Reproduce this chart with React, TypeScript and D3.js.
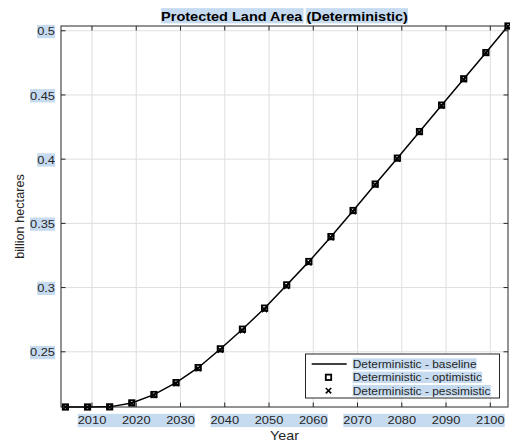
import React, { useEffect, useRef } from "react";
import * as d3 from "d3";

const years = [2004, 2009, 2014, 2019, 2024, 2029, 2034, 2039, 2044, 2049, 2054, 2059, 2064, 2069, 2074, 2079, 2084, 2089, 2094, 2099, 2104];
const baseline = [0.2070, 0.2070, 0.2071, 0.2101, 0.2166, 0.2259, 0.2376, 0.2522, 0.2675, 0.2839, 0.3020, 0.3202, 0.3396, 0.3599, 0.3805, 0.4007, 0.4214, 0.4420, 0.4625, 0.4829, 0.5037];
const optimistic = [0.2070, 0.2070, 0.2071, 0.2102, 0.2167, 0.2260, 0.2377, 0.2523, 0.2676, 0.2840, 0.3021, 0.3203, 0.3397, 0.3600, 0.3806, 0.4008, 0.4215, 0.4421, 0.4626, 0.4830, 0.5037];
const pessimistic = [0.2070, 0.2070, 0.2070, 0.2099, 0.2163, 0.2254, 0.2369, 0.2514, 0.2666, 0.2830, 0.3011, 0.3193, 0.3389, 0.3593, 0.3799, 0.4002, 0.4210, 0.4417, 0.4622, 0.4827, 0.5035];

const xDomain = [2003, 2104];
const xTicks = [2010, 2020, 2030, 2040, 2050, 2060, 2070, 2080, 2090, 2100];
const xTickGroups = [[2010, 2020, 2030], [2040, 2050, 2060], [2070, 2080, 2090, 2100]];
const yTicks = [0.25, 0.3, 0.35, 0.4, 0.45, 0.5];
const yTickLabels = ["0.25", "0.3", "0.35", "0.4", "0.45", "0.5"];
const titleParts = ["Protected Land Area", "(Deterministic)"];
const xLabel = "Year";
const yLabel = "billion hectares";
const legendLabels = ["Deterministic - baseline", "Deterministic - optimistic", "Deterministic - pessimistic"];

const W = 510;
const H = 444;
const PL = 61, PR = 508, PT = 26, PB = 407;
const FONT = "'Liberation Sans', Arial, Helvetica, sans-serif";
const SX = 1.1;
const HL = "#c6dbf0";
const AX = "#262626";

export default function App() {
  const ref = useRef<SVGSVGElement | null>(null);

  useEffect(() => {
    const svg = d3.select(ref.current);
    svg.selectAll("*").remove();

    const x = d3.scaleLinear().domain(xDomain).range([PL, PR]);
    const yExt = d3.extent(baseline) as [number, number];
    const y = d3.scaleLinear().domain(yExt).range([PB, PT]);

    const hlLayer = svg.append("g");
    const gridG = svg.append("g");
    const boxG = svg.append("g");
    const dataG = svg.append("g");
    const textG = svg.append("g");

    const addText = (
      parent: any,
      tx: number,
      ty: number,
      str: string,
      size: number,
      anchor: string,
      weight = "normal",
      fill = AX,
      sx = SX
    ) => {
      const t = parent
        .append("text")
        .attr("transform", `translate(${tx},${ty}) scale(${sx},1)`)
        .attr("text-anchor", anchor)
        .attr("font-family", FONT)
        .attr("font-size", size)
        .attr("font-weight", weight)
        .attr("fill", fill)
        .text(str);
      const node = t.node() as SVGTextElement;
      const b = node.getBBox();
      return { node, x0: tx + b.x * sx, x1: tx + (b.x + b.width) * sx, y0: ty + b.y, y1: ty + b.y + b.height, sx };
    };

    // grid
    xTicks.forEach((v) => {
      gridG.append("line").attr("x1", x(v)).attr("x2", x(v)).attr("y1", PT).attr("y2", PB)
        .attr("stroke", "#dedede").attr("stroke-width", 1);
    });
    yTicks.forEach((v) => {
      gridG.append("line").attr("x1", PL).attr("x2", PR).attr("y1", y(v)).attr("y2", y(v))
        .attr("stroke", "#dedede").attr("stroke-width", 1);
    });

    // box
    boxG.append("rect").attr("x", PL).attr("y", PT).attr("width", PR - PL).attr("height", PB - PT)
      .attr("fill", "none").attr("stroke", AX).attr("stroke-width", 1);
    const TL = 4.5;
    xTicks.forEach((v) => {
      boxG.append("line").attr("x1", x(v)).attr("x2", x(v)).attr("y1", PB).attr("y2", PB - TL).attr("stroke", AX);
      boxG.append("line").attr("x1", x(v)).attr("x2", x(v)).attr("y1", PT).attr("y2", PT + TL).attr("stroke", AX);
    });
    yTicks.forEach((v) => {
      boxG.append("line").attr("x1", PL).attr("x2", PL + TL).attr("y1", y(v)).attr("y2", y(v)).attr("stroke", AX);
      boxG.append("line").attr("x1", PR).attr("x2", PR - TL).attr("y1", y(v)).attr("y2", y(v)).attr("stroke", AX);
    });

    // data line
    const line = d3.line<number>().x((_, i) => x(years[i])).y((d) => y(d));
    dataG.append("path").attr("d", line(baseline) as string).attr("fill", "none")
      .attr("stroke", "#000").attr("stroke-width", 1.5);

    const drawSquare = (g: any, cx: number, cy: number) => {
      g.append("rect").attr("x", cx - 2.7).attr("y", cy - 2.7).attr("width", 5.4).attr("height", 5.4)
        .attr("fill", "none").attr("stroke", "#000").attr("stroke-width", 1.8);
    };
    const drawCross = (g: any, cx: number, cy: number) => {
      const r = 2.7;
      g.append("path").attr("d", `M${cx - r},${cy - r}L${cx + r},${cy + r}M${cx - r},${cy + r}L${cx + r},${cy - r}`)
        .attr("stroke", "#000").attr("stroke-width", 1.6).attr("fill", "none");
    };
    optimistic.forEach((v, i) => drawSquare(dataG, x(years[i]), y(v)));
    pessimistic.forEach((v, i) => drawCross(dataG, x(years[i]), y(v)));

    // y tick labels
    const TICK_FS = 11.7;
    yTicks.forEach((v, i) => {
      const b = addText(textG, 55, y(v) + 4.6, yTickLabels[i], TICK_FS, "end");
      hlLayer.append("rect").attr("x", b.x0).attr("y", b.y0).attr("width", b.x1 - b.x0).attr("height", b.y1 - b.y0).attr("fill", HL);
    });

    // x tick labels with grouped highlights
    xTickGroups.forEach((grp) => {
      const boxes = grp.map((v) => addText(textG, x(v), PB + 17.3, String(v), TICK_FS, "middle"));
      const x0 = d3.min(boxes, (b) => b.x0) as number;
      const x1 = d3.max(boxes, (b) => b.x1) as number;
      const y0 = d3.min(boxes, (b) => b.y0) as number;
      const y1 = d3.max(boxes, (b) => b.y1) as number;
      hlLayer.append("rect").attr("x", x0).attr("y", y0).attr("width", x1 - x0).attr("height", y1 - y0).attr("fill", HL);
    });

    // axis labels
    addText(textG, (PL + PR) / 2, 440, xLabel, 13, "middle");
    textG.append("text")
      .attr("transform", `translate(23.5,${(PT + PB) / 2}) rotate(-90)`)
      .attr("text-anchor", "middle")
      .attr("font-family", FONT)
      .attr("font-size", 12.7)
      .attr("fill", AX)
      .text(yLabel);

    // title
    const full = titleParts.join(" ");
    const tb = addText(textG, (PL + PR) / 2, 20.5, full, 13.2, "middle", "bold", "#000");
    const w1 = tb.node.getSubStringLength(0, titleParts[0].length) * SX;
    const wSp = tb.node.getSubStringLength(titleParts[0].length, 1) * SX;
    hlLayer.append("rect").attr("x", tb.x0).attr("y", tb.y0).attr("width", w1 + wSp * 0.3).attr("height", tb.y1 - tb.y0).attr("fill", HL);
    hlLayer.append("rect").attr("x", tb.x0 + w1 + wSp * 0.85).attr("y", tb.y0).attr("width", tb.x1 - (tb.x0 + w1 + wSp * 0.85)).attr("height", tb.y1 - tb.y0).attr("fill", HL);

    // legend
    const LX0 = 305.5, LX1 = 499.5, LY0 = 354, LY1 = 398;
    const legG = svg.append("g");
    legG.append("rect").attr("x", LX0).attr("y", LY0).attr("width", LX1 - LX0).attr("height", LY1 - LY0)
      .attr("fill", "#fff").attr("stroke", AX).attr("stroke-width", 1);
    const legHL = legG.append("g");
    const legT = legG.append("g");
    const rowY = [364, 377.3, 390.7];
    legendLabels.forEach((lab, i) => {
      const b = addText(legT, 352.7, rowY[i] + 3.8, lab, 10.85, "start");
      legHL.append("rect").attr("x", b.x0).attr("y", b.y0).attr("width", b.x1 - b.x0).attr("height", b.y1 - b.y0).attr("fill", HL);
    });
    legG.append("line").attr("x1", 311.7).attr("x2", 346.7).attr("y1", rowY[0]).attr("y2", rowY[0])
      .attr("stroke", "#000").attr("stroke-width", 1.5);
    drawSquare(legG, 328.5, rowY[1]);
    drawCross(legG, 328.5, rowY[2]);
  }, []);

  return (
    <svg
      ref={ref}
      width={W}
      height={H}
      style={{ position: "fixed", left: 0, top: 0, background: "#fff", display: "block" }}
    />
  );
}
